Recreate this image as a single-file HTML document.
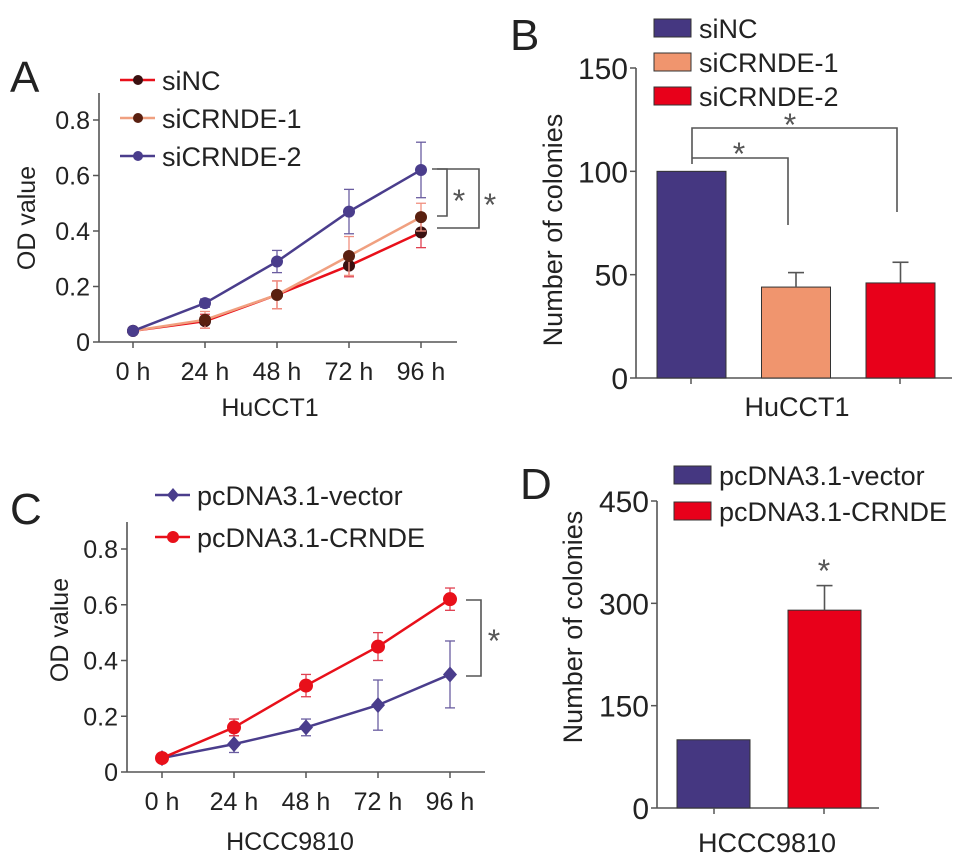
<!DOCTYPE html>
<html><head><meta charset="utf-8"><style>
html,body{margin:0;padding:0;background:#fff;}
svg{display:block;font-family:"Liberation Sans",Arial,sans-serif;}
</style></head><body>
<svg id="fig" width="969" height="864" viewBox="0 0 969 864"></svg>
<script>
const timeLabels = ["0 h","24 h","48 h","72 h","96 h"];
const odTicks = [0,0.2,0.4,0.6,0.8];
const odTickLabels = ["0","0.2","0.4","0.6","0.8"];
// Panel A
const aNames = ["siNC","siCRNDE-1","siCRNDE-2"];
const aSiNC = [0.04,0.075,0.17,0.275,0.395];
const aSiNCErr = [0.01,0.025,0.05,0.04,0.055];
const aSi1 = [0.04,0.08,0.17,0.31,0.45];
const aSi1Err = [0.01,0.03,0.05,0.07,0.05];
const aSi2 = [0.04,0.14,0.29,0.47,0.62];
const aSi2Err = [0.01,0.015,0.04,0.08,0.1];
// Panel C
const cNames = ["pcDNA3.1-vector","pcDNA3.1-CRNDE"];
const cVec = [0.05,0.10,0.16,0.24,0.35];
const cVecErr = [0.01,0.03,0.03,0.09,0.12];
const cCr = [0.05,0.16,0.31,0.45,0.62];
const cCrErr = [0.01,0.03,0.04,0.05,0.04];
// Panel B
const bNames = ["siNC","siCRNDE-1","siCRNDE-2"];
const bValues = [100,44,46];
const bErr = [0,7,10];
const bTicks = [0,50,100,150];
// Panel D
const dNames = ["pcDNA3.1-vector","pcDNA3.1-CRNDE"];
const dValues = [100,290];
const dErr = [0,36];
const dTicks = [0,150,300,450];

const NS="http://www.w3.org/2000/svg";
const svg=document.getElementById('fig');
function el(tag,attrs,parent,text){const e=document.createElementNS(NS,tag);for(const k in attrs)e.setAttribute(k,attrs[k]);if(text!==undefined)e.textContent=text;(parent||svg).appendChild(e);return e;}
const AX="#555";
function grp(name){const g=el('g',{});return g;}
function txt(parent,x,y,s,size,anchor,name,extra){const t=el('text',Object.assign({x:x,y:y,'font-size':size,'text-anchor':anchor||'start',fill:'#222'},extra||{}),parent,s);return t;}

function linePanel(P){
  const g=grp(P.name);
  const ys=v=>P.y0-(v/0.8)*(P.y0-P.y8);
  const xs=i=>P.x0+i*P.dx;
  el('line',{x1:P.ax,y1:P.top,x2:P.ax,y2:P.y0,stroke:AX,'stroke-width':1.6},g);
  el('line',{x1:P.ax,y1:P.y0,x2:P.xend,y2:P.y0,stroke:AX,'stroke-width':1.6},g);
  odTicks.forEach((t,i)=>{el('line',{x1:P.ax-6,y1:ys(t),x2:P.ax,y2:ys(t),stroke:AX,'stroke-width':1.5},g);
    txt(g,P.ax-9,ys(t)+9,odTickLabels[i],25,'end','y-tick-label');});
  timeLabels.forEach((l,i)=>{el('line',{x1:xs(i),y1:P.y0,x2:xs(i),y2:P.y0+6,stroke:AX,'stroke-width':1.5},g);
    txt(g,xs(i),P.tickY,l,25,'middle','x-tick-label');});
  txt(g,P.xTitleX,P.xTitleY,P.xTitle,25,'middle','x-axis-title');
  txt(g,0,0,'OD value',25,'middle','y-axis-title',{transform:`translate(${P.yTitleX},${P.yTitleY}) rotate(-90)`});
  P.series.forEach(s=>{
    const sg=grp('series-'+s.key);g.appendChild(sg);
    s.vals.forEach((v,i)=>{const x=xs(i);el('line',{x1:x,y1:ys(v-s.err[i]),x2:x,y2:ys(v+s.err[i]),stroke:s.ec,'stroke-width':1.3},sg);
      el('line',{x1:x-5,y1:ys(v-s.err[i]),x2:x+5,y2:ys(v-s.err[i]),stroke:s.ec,'stroke-width':1.3},sg);
      el('line',{x1:x-5,y1:ys(v+s.err[i]),x2:x+5,y2:ys(v+s.err[i]),stroke:s.ec,'stroke-width':1.3},sg);});
    el('polyline',{points:s.vals.map((v,i)=>xs(i)+','+ys(v)).join(' '),fill:'none',stroke:s.color,'stroke-width':2.5},sg);
    s.vals.forEach((v,i)=>{const x=xs(i),y=ys(v);let m;
      if(s.marker==='diamond')m=el('polygon',{points:`${x},${y-8} ${x+7},${y} ${x},${y+8} ${x-7},${y}`,fill:s.mc},sg);
      else m=el('circle',{cx:x,cy:y,r:s.r,fill:s.mc},sg);
      });
  });
  return g;
}

// Panel A
const gA=linePanel({name:'panel-a',ax:99,top:93,y0:342,y8:120,x0:133,dx:72,xend:457,tickY:380,xTitle:'HuCCT1',xTitleX:270,xTitleY:416,yTitleX:35,yTitleY:218,
 series:[
  {key:'sinc',vals:aSiNC,err:aSiNCErr,color:'#e8101a',ec:'#e04050',mc:'#3a1010',r:6},
  {key:'sicrnde-1',vals:aSi1,err:aSi1Err,color:'#f0a080',ec:'#f09080',mc:'#5a2010',r:6},
  {key:'sicrnde-2',vals:aSi2,err:aSi2Err,color:'#4a3d8c',ec:'#6a5da0',mc:'#4a3d8c',r:6}]});
txt(gA,10,92,'A',44,'start','panel-label-a');
[['siNC','#e8101a','#3a1010',80],['siCRNDE-1','#f0a080','#5a2010',118],['siCRNDE-2','#4a3d8c','#4a3d8c',156]].forEach(r=>{
  const lg=grp('legend-entry');gA.appendChild(lg);
  el('line',{x1:120,y1:r[3],x2:155,y2:r[3],stroke:r[1],'stroke-width':2.5},lg);
  el('circle',{cx:138,cy:r[3],r:5,fill:r[2]},lg);
  txt(lg,162,r[3]+10,r[0],27,'start','legend-label');});
const brA=grp('significance-brackets-a');
el('polyline',{points:'432,169 447,169 447,216 437,216',fill:'none',stroke:AX,'stroke-width':1.6},brA);
el('polyline',{points:'437,169 479,169 479,228 437,228',fill:'none',stroke:AX,'stroke-width':1.6},brA);
txt(brA,459,212,'*',32,'middle','asterisk',{fill:'#555'});txt(brA,490,216,'*',32,'middle','asterisk',{fill:'#555'});

// Panel C
const gC=linePanel({name:'panel-c',ax:127,top:522,y0:772,y8:549,x0:162,dx:72,xend:485,tickY:810,xTitle:'HCCC9810',xTitleX:290,xTitleY:850,yTitleX:68,yTitleY:630,
 series:[
  {key:'vector',vals:cVec,err:cVecErr,color:'#4a3d8c',ec:'#6a5da0',mc:'#4a3d8c',marker:'diamond'},
  {key:'crnde',vals:cCr,err:cCrErr,color:'#e8101a',ec:'#e04050',mc:'#e8101a',r:7}]});
txt(gC,10,524,'C',44,'start','panel-label-c');
[['pcDNA3.1-vector','#4a3d8c',495,'d'],['pcDNA3.1-CRNDE','#e8101a',537,'c']].forEach(r=>{
  const lg=grp('legend-entry');gC.appendChild(lg);
  el('line',{x1:155,y1:r[2],x2:190,y2:r[2],stroke:r[1],'stroke-width':2.5},lg);
  if(r[3]==='d')el('polygon',{points:`173,${r[2]-7} 179,${r[2]} 173,${r[2]+7} 167,${r[2]}`,fill:r[1]},lg);
  else el('circle',{cx:173,cy:r[2],r:6,fill:r[1]},lg);
  txt(lg,197,r[2]+10,r[0],27,'start','legend-label');});
const brC=grp('significance-bracket-c');
el('polyline',{points:'466,600 481,600 481,676 466,676',fill:'none',stroke:AX,'stroke-width':1.6},brC);
txt(brC,494,652,'*',32,'middle','asterisk',{fill:'#555'});

// Bar panels
function barPanel(P){
  const g=grp(P.name);
  const ys=v=>P.y0-(v/P.max)*(P.y0-P.ytop);
  el('line',{x1:P.ax,y1:P.ytop,x2:P.ax,y2:P.y0,stroke:AX,'stroke-width':1.6},g);
  el('line',{x1:P.ax,y1:P.y0,x2:P.xend,y2:P.y0,stroke:AX,'stroke-width':1.6},g);
  P.ticks.forEach(t=>{el('line',{x1:P.ax-6,y1:ys(t),x2:P.ax,y2:ys(t),stroke:AX,'stroke-width':1.5},g);
    txt(g,P.ax-8,ys(t)+11,String(t),30,'end','y-tick-label');});
  P.vals.forEach((v,i)=>{const x=P.bx0+i*P.bstep;
    const b=el('rect',{x:x,y:ys(v),width:P.bw,height:P.y0-ys(v),fill:P.colors[i],stroke:'#333','stroke-width':1},g);
    
    if(P.err[i]>0){const cx=x+P.bw/2;el('line',{x1:cx,y1:ys(v),x2:cx,y2:ys(v+P.err[i]),stroke:AX,'stroke-width':1.6},g);
      el('line',{x1:cx-8,y1:ys(v+P.err[i]),x2:cx+8,y2:ys(v+P.err[i]),stroke:AX,'stroke-width':1.6},g);}
  });
  P.tickXs.forEach(x=>el('line',{x1:x,y1:P.y0,x2:x,y2:P.y0+6,stroke:AX,'stroke-width':1.5},g));
  txt(g,P.xTitleX,P.xTitleY,P.xTitle,27,'middle','x-axis-title');
  txt(g,0,0,'Number of colonies',27,'middle','y-axis-title',{transform:`translate(${P.yTitleX},${P.yTitleY}) rotate(-90)`});
  P.names.forEach((n,i)=>{const lg=grp('legend-entry');g.appendChild(lg);
    el('rect',{x:P.lx,y:P.ly+i*P.lstep,width:37,height:18,fill:P.colors[i],stroke:'#333','stroke-width':1},lg);
    txt(lg,P.lx+45,P.ly+i*P.lstep+19,n,27,'start','legend-label');});
  return {g,ys};
}
const B=barPanel({name:'panel-b',ax:636,ytop:68,y0:378,max:150,xend:952,ticks:bTicks,vals:bValues,err:bErr,names:bNames,
  colors:['#453781','#f0956e','#e8001a'],bx0:657,bw:69,bstep:104.5,tickXs:[691,900],xTitle:'HuCCT1',xTitleX:797,xTitleY:416,yTitleX:562,yTitleY:230,lx:654,ly:19,lstep:34});
txt(B.g,510,50,'B',44,'start','panel-label-b');
const brB=grp('significance-brackets-b');
el('polyline',{points:'692,164 692,128 897,128 897,212',fill:'none',stroke:AX,'stroke-width':1.6},brB);
el('polyline',{points:'692,158 788,158 788,225',fill:'none',stroke:AX,'stroke-width':1.6},brB);
txt(brB,739,165,'*',32,'middle','asterisk',{fill:'#555'});txt(brB,790,136,'*',32,'middle','asterisk',{fill:'#555'});

const D=barPanel({name:'panel-d',ax:657,ytop:501,y0:808,max:450,xend:879,ticks:dTicks,vals:dValues,err:dErr,names:dNames,
  colors:['#453781','#e8001a'],bx0:677,bw:73,bstep:111,tickXs:[714,824],xTitle:'HCCC9810',xTitleX:767,xTitleY:852,yTitleX:582,yTitleY:627,lx:674,ly:466,lstep:36});
txt(D.g,520,499,'D',44,'start','panel-label-d');
txt(D.g,824,582,'*',32,'middle','asterisk',{fill:'#555'});
</script>
</body></html>
